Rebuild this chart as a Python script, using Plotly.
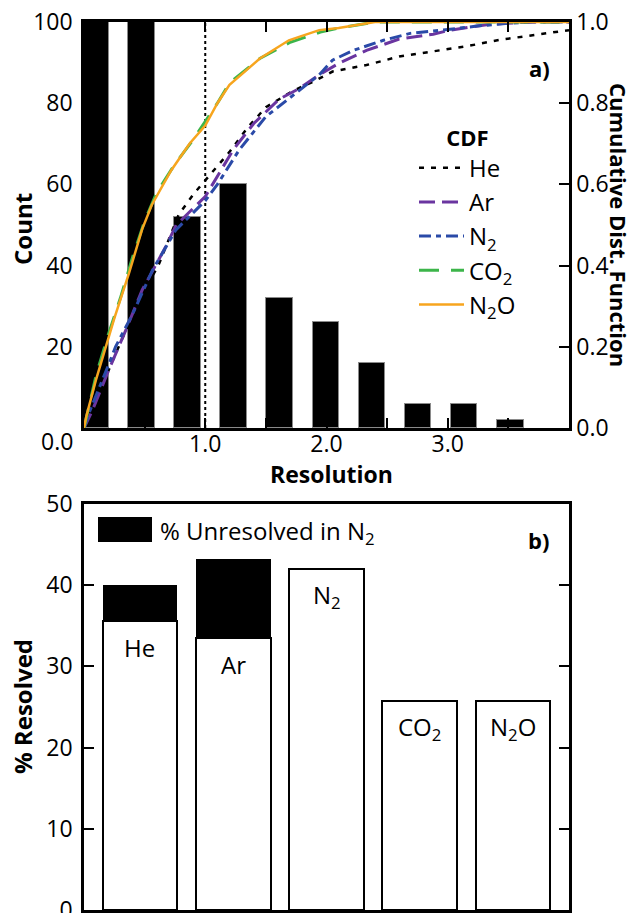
import plotly.graph_objects as go

# ---------------- data ----------------
# (a) histogram of resolution values
bin_centers = [0.095, 0.475, 0.855, 1.235, 1.615, 1.995, 2.375, 2.755, 3.135, 3.515]
bin_counts = [128, 112, 52, 60, 32, 26, 16, 6, 6, 2]

# (a) cumulative distribution of resolution for each carrier gas
he_x = [0, 0.05, 0.18, 0.30, 0.45, 0.62, 0.78, 0.90, 1.00, 1.20, 1.35, 1.50, 1.72, 1.89, 2.05,
        2.33, 2.60, 2.88, 3.15, 3.43, 3.70, 4.00]
he_y = [0, 0.03, 0.126, 0.21, 0.31, 0.405, 0.525, 0.575, 0.61, 0.68, 0.74, 0.79, 0.83, 0.853,
        0.878, 0.894, 0.915, 0.927, 0.94, 0.956, 0.968, 0.98]

ar_x = [0, 0.07, 0.20, 0.345, 0.48, 0.675, 0.76, 0.90, 1.00, 1.23, 1.40, 1.61, 1.78, 1.94, 2.10,
        2.33, 2.60, 2.88, 3.02, 3.32, 3.48, 3.70, 4.00]
ar_y = [0, 0.044, 0.14, 0.241, 0.34, 0.447, 0.50, 0.54, 0.57, 0.685, 0.75, 0.81, 0.837, 0.87,
        0.898, 0.93, 0.958, 0.97, 0.98, 0.993, 0.997, 1.0, 1.0]

n2_x = [0, 0.04, 0.207, 0.26, 0.40, 0.565, 0.758, 0.90, 1.00, 1.10, 1.28, 1.50, 1.78, 1.94, 2.05,
        2.22, 2.47, 2.69, 2.96, 3.24, 3.50, 3.70, 4.00]
n2_y = [0, 0.036, 0.159, 0.20, 0.28, 0.389, 0.488, 0.53, 0.56, 0.60, 0.685, 0.767, 0.833, 0.87,
        0.906, 0.93, 0.955, 0.972, 0.98, 0.99, 0.997, 1.0, 1.0]

co2_x = [0, 0.10, 0.20, 0.30, 0.40, 0.50, 0.60, 0.75, 0.90, 1.00, 1.10, 1.20, 1.45, 1.70, 1.95,
         2.10, 2.25, 2.40, 4.00]
co2_y = [0, 0.13, 0.23, 0.32, 0.42, 0.51, 0.58, 0.65, 0.71, 0.755, 0.80, 0.85, 0.91, 0.95,
         0.975, 0.985, 0.992, 1.0, 1.0]

n2o_x = [0, 0.02, 0.10, 0.18, 0.25, 0.37, 0.48, 0.56, 0.72, 0.87, 1.00, 1.10, 1.20, 1.45, 1.69,
         1.78, 1.94, 2.10, 2.25, 2.40, 4.00]
n2o_y = [0, 0.03, 0.12, 0.20, 0.27, 0.38, 0.49, 0.55, 0.635, 0.70, 0.745, 0.80, 0.845, 0.91,
         0.955, 0.964, 0.98, 0.985, 0.993, 1.0, 1.0]

cdf_names = ["He", "Ar", "N<sub>2</sub>", "CO<sub>2</sub>", "N<sub>2</sub>O"]

# (b) percentage of compounds resolved per carrier gas
gases = ["He", "Ar", "N<sub>2</sub>", "CO<sub>2</sub>", "N<sub>2</sub>O"]
pct_resolved = [35.6, 33.5, 42.0, 25.8, 25.8]
pct_unresolved_in_n2 = [4.4, 9.7, 0, 0, 0]

x_ticks_a = [0, 0.5, 1.0, 1.5, 2.0, 2.5, 3.0, 3.5, 4.0]
x_ticktext_a = ["", "", "1.0", "", "2.0", "", "3.0", "", ""]
count_ticks = [0, 20, 40, 60, 80, 100]
count_ticktext = ["", "20", "40", "60", "80", "100"]
cdf_ticks = [0, 0.2, 0.4, 0.6, 0.8, 1.0]
cdf_ticktext = ["0.0", "0.2", "0.4", "0.6", "0.8", "1.0"]
pct_ticks = [0, 10, 20, 30, 40, 50]

# ---------------- layout helpers ----------------
W, H = 636, 913
ML, MR, MT, MB = 84, 67, 22, 3
PW, PH = W - ML - MR, H - MT - MB


def px_x(p):
    return (p - ML) / PW


def px_y(p):
    return (H - MB - p) / PH


FONT = "Open Sans"
TICK_SIZE = 23
LABEL_SIZE = 24
TITLE_SIZE = 24
BLACK = "#000000"

fig = go.Figure()

# histogram bars
fig.add_trace(go.Bar(
    x=bin_centers, y=bin_counts, width=0.22, xaxis="x", yaxis="y",
    marker=dict(color=BLACK, line=dict(color="#8a8a8a", width=1)),
    showlegend=False,
))

styles = [
    (he_x, he_y, "#000000", "5px,7px", 2.5),
    (ar_x, ar_y, "#6a35a0", "16px,7px", 3),
    (n2_x, n2_y, "#2a4aa8", "12px,5px,5px,5px", 3),
    (co2_x, co2_y, "#3cb54a", "20px,12px", 3),
    (n2o_x, n2o_y, "#f7a51e", "solid", 2.5),
]
for name, (xs, ys, col, dash, w) in zip(cdf_names, styles):
    fig.add_trace(go.Scatter(
        x=xs, y=ys, mode="lines", name=name, xaxis="x", yaxis="y2",
        line=dict(color=col, dash=dash, width=w),
    ))

# stacked bars for panel (b)
fig.add_trace(go.Bar(
    x=gases, y=pct_resolved, width=0.8, xaxis="x2", yaxis="y3",
    marker=dict(color="white", line=dict(color=BLACK, width=2.5)),
    showlegend=False,
))
fig.add_trace(go.Bar(
    x=gases, y=pct_unresolved_in_n2, width=0.8, xaxis="x2", yaxis="y3",
    marker=dict(color=BLACK, line=dict(color=BLACK, width=0)),
    showlegend=False,
))

axis_common = dict(
    showline=True, linecolor=BLACK, linewidth=2.5, ticks="inside", ticklen=10,
    tickwidth=1.5, tickcolor=BLACK, showgrid=False, zeroline=False, automargin=False,
    tickfont=dict(family=FONT, size=TICK_SIZE, color=BLACK),
)

top_dom = [px_y(428), 1.0]
bot_dom = [0.0, px_y(504)]

fig.update_layout(
    width=W, height=H,
    margin=dict(l=ML, r=MR, t=MT, b=MB, autoexpand=False),
    paper_bgcolor="white", plot_bgcolor="white",
    barmode="stack", bargap=0,
    font=dict(family=FONT, color=BLACK),
    xaxis=dict(axis_common, domain=[0, 1], range=[0, 4], anchor="y",
               tickvals=x_ticks_a, ticktext=x_ticktext_a, mirror="ticks",
               ticklabelstandoff=-6),
    yaxis=dict(axis_common, domain=top_dom, range=[0, 100], anchor="x",
               tickvals=count_ticks, ticktext=count_ticktext, ticklabelstandoff=4),
    yaxis2=dict(axis_common, range=[0, 1], overlaying="y", side="right", anchor="x",
                tickvals=cdf_ticks, ticktext=cdf_ticktext),
    xaxis2=dict(axis_common, domain=[0, 1], range=[-0.6, 4.6], anchor="y3",
                showticklabels=False, ticks="", mirror=True, type="category"),
    yaxis3=dict(axis_common, domain=bot_dom, range=[0, 50], anchor="x2",
                tickvals=pct_ticks, mirror="ticks", ticklabelstandoff=4,
                ticklabeloverflow="allow"),
    legend=dict(
        x=px_x(414), y=px_y(117), xanchor="left", yanchor="top",
        bgcolor="rgba(0,0,0,0)", borderwidth=0, traceorder="normal",
        font=dict(family=FONT, size=LABEL_SIZE, color=BLACK),
        title=dict(text="<b>CDF</b>", side="top center",
                   font=dict(family=FONT, size=22, color=BLACK)),
        itemwidth=45, tracegroupgap=0,
    ),
)

# reference line at resolution = 1.0
fig.add_shape(type="line", xref="x", yref="y", x0=1.0, x1=1.0, y0=0, y1=100,
              line=dict(color=BLACK, width=2, dash="dot"), layer="below")

ann = []


def text(t, x, y, size=LABEL_SIZE, bold=False, angle=0, xanchor="center", yanchor="middle"):
    ann.append(dict(
        text=f"<b>{t}</b>" if bold else t, x=px_x(x), y=px_y(y), xref="paper", yref="paper",
        showarrow=False, textangle=angle, xanchor=xanchor, yanchor=yanchor,
        font=dict(family=FONT, size=size, color=BLACK),
    ))


text("0.0", 57, 441, size=TICK_SIZE)
text("Resolution", 331, 474, size=23, bold=True)
text("Count", 22, 229, size=TITLE_SIZE, bold=True, angle=-90)
text("Cumulative Dist. Function", 619, 225, size=22, bold=True, angle=90)
text("a)", 539, 68, size=22, bold=True)
text("b)", 538, 540, size=22, bold=True)
text("% Resolved", 22, 707, size=TITLE_SIZE, bold=True, angle=-90)
text("% Unresolved in N<sub>2</sub>", 158, 532, size=LABEL_SIZE, xanchor="left")

# name labels inside the white bars
for g, v in zip(gases, pct_resolved):
    ann.append(dict(
        text=g, x=g, y=v, xref="x2", yref="y3", showarrow=False, yshift=-27,
        xanchor="center", yanchor="middle",
        font=dict(family=FONT, size=LABEL_SIZE, color=BLACK),
    ))

fig.update_layout(annotations=ann)

# key swatch for the unresolved fraction
fig.add_shape(type="rect", xref="paper", yref="paper",
              x0=px_x(98), x1=px_x(152), y0=px_y(542), y1=px_y(517),
              fillcolor=BLACK, line=dict(width=0))

fig.write_html("out.html")
